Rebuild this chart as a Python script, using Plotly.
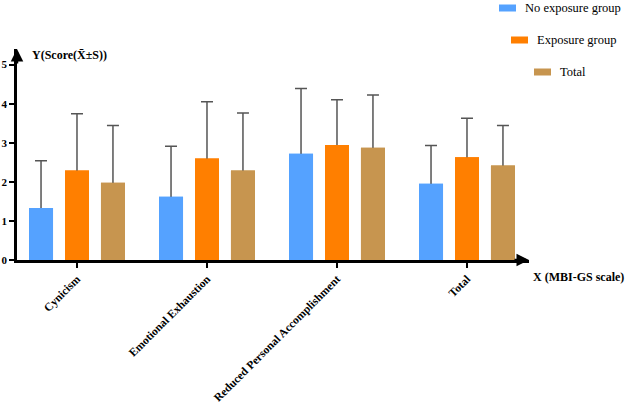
import plotly.graph_objects as go

categories = ["Cynicism", "Emotional Exhaustion", "Reduced Personal Accomplishment", "Total"]
series_names = ["No exposure group", "Exposure group", "Total"]
means_no_exposure = [1.33, 1.62, 2.72, 1.95]
sd_no_exposure = [1.21, 1.29, 1.67, 0.98]
means_exposure = [2.29, 2.60, 2.94, 2.63]
sd_exposure = [1.45, 1.45, 1.16, 1.00]
means_total = [1.98, 2.29, 2.87, 2.42]
sd_total = [1.46, 1.47, 1.35, 1.02]
y_ticks = [0, 1, 2, 3, 4, 5]

colors = ["#55A2FF", "#FF7F00", "#C7954F"]
means = [means_no_exposure, means_exposure, means_total]
sds = [sd_no_exposure, sd_exposure, sd_total]

SERIF = "Liberation Serif"

# plot-area geometry in pixels (used to place paper-referenced decorations)
W, H = 630, 403
L, R, T, B = 17, 101, 49, 143
PW, PH = W - L - R, H - T - B


def px(x):
    return (x - L) / PW


def py(y):
    return (H - B - y) / PH


fig = go.Figure()
for i, (name, m, s, c) in enumerate(zip(series_names, means, sds, colors)):
    # error bars (SD) drawn with the bar, then covered below the mean by an overlaid bar
    fig.add_trace(go.Bar(
        x=categories, y=m, name=name, offsetgroup=str(i),
        marker=dict(color=c, line=dict(width=0)),
        error_y=dict(type="data", array=s, symmetric=True,
                     color="#555555", thickness=1.5, width=6),
        showlegend=False, hoverinfo="skip",
    ))
    fig.add_trace(go.Bar(
        x=categories, y=m, name=name, offsetgroup=str(i),
        marker=dict(color=c, line=dict(width=0)),
        showlegend=False,
    ))

fig.update_layout(
    width=W, height=H,
    margin=dict(l=L, r=R, t=T, b=B, autoexpand=False),
    paper_bgcolor="white", plot_bgcolor="white",
    barmode="group", bargap=0.17, bargroupgap=0.333,
    xaxis=dict(
        range=[-0.4615, 3.477], showline=True, linecolor="black", linewidth=2.5,
        ticks="outside", ticklen=5, tickwidth=2, tickcolor="black",
        tickangle=-45, showgrid=False, zeroline=False,
        tickfont=dict(family=SERIF, size=11.5, color="black", weight="bold"),
    ),
    yaxis=dict(
        range=[0, 5.4], showline=True, linecolor="black", linewidth=2.5,
        tickvals=y_ticks, ticktext=[str(t) for t in y_ticks],
        ticks="outside", ticklen=5, tickwidth=2, tickcolor="black",
        showgrid=False, zeroline=False,
        tickfont=dict(family=SERIF, size=11, color="black", weight="bold"),
    ),
)

# axis arrowheads
fig.add_annotation(x=0, y=1, xref="paper", yref="paper", ax=0, ay=16, text="",
                   showarrow=True, arrowhead=2, arrowsize=1, arrowwidth=2.5, arrowcolor="black")
fig.add_annotation(x=1, y=0, xref="paper", yref="paper", ax=-16, ay=0, text="",
                   showarrow=True, arrowhead=2, arrowsize=1, arrowwidth=2.5, arrowcolor="black")

# axis titles
fig.add_annotation(x=px(30), y=py(55), xref="paper", yref="paper",
                   text="<b>Y(Score(X\u0304±S))</b>", showarrow=False,
                   xanchor="left", yanchor="middle",
                   font=dict(family=SERIF, size=12, color="black"))
fig.add_annotation(x=px(531), y=py(277), xref="paper", yref="paper",
                   text="<b>X (MBI-GS scale)</b>", showarrow=False,
                   xanchor="left", yanchor="middle",
                   font=dict(family=SERIF, size=12, color="black"))

# manual staggered legend
legend_pos = [(499, 8), (511, 40), (534, 72)]
for (lx, ly), name, c in zip(legend_pos, series_names, colors):
    fig.add_shape(type="rect", xref="paper", yref="paper",
                  x0=px(lx), x1=px(lx + 17),
                  y0=py(ly + 3.5), y1=py(ly - 3.5),
                  fillcolor=c, line=dict(width=0))
    fig.add_annotation(x=px(lx + 24), y=py(ly), xref="paper", yref="paper",
                       text=name, showarrow=False, xanchor="left", yanchor="middle",
                       font=dict(family=SERIF, size=12.5, color="black"))

fig.write_html("out.html")
